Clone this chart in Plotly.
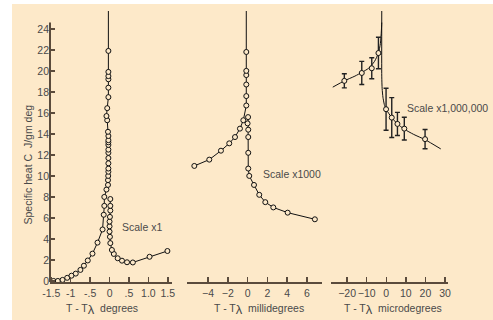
import plotly.graph_objects as go

# ---------------- data ----------------
# Panel 1: T - T_lambda in degrees
p1_left_x = [-1.44, -1.33, -1.21, -1.09, -0.98, -0.87, -0.75, -0.66, -0.56, -0.44, -0.31, -0.18,
             -0.15, -0.135, -0.135, -0.08, -0.04, -0.04, -0.035, -0.03, -0.03, -0.03, -0.03, -0.03,
             -0.03, -0.03, -0.03, -0.03, -0.03, -0.04, -0.06, -0.08, -0.06, -0.03, -0.03, -0.03,
             -0.03, -0.03, -0.03]
p1_left_y = [0.0, 0.0, 0.1, 0.3, 0.5, 0.7, 1.05, 1.45, 1.95, 2.6, 3.65, 4.9,
             6.3, 7.15, 8.0, 8.7, 9.14, 9.6, 10.0, 10.4, 10.7, 11.2, 11.7, 12.2,
             12.5, 12.95, 13.2, 13.4, 13.8, 14.2, 15.3, 15.7, 16.45, 17.5, 18.4, 19.2,
             19.5, 19.9, 21.9]
p1_right_x = [1.49, 1.03, 0.6, 0.45, 0.32, 0.21, 0.11, 0.06, 0.02, 0.01, 0.0, 0.0, 0.0, 0.01,
              0.02, 0.02, 0.02]
p1_right_y = [2.85, 2.3, 1.76, 1.78, 1.93, 2.16, 2.57, 2.95, 3.6, 4.2, 4.7, 5.2, 5.65, 6.1,
              6.7, 7.15, 7.8]
p1_peak_x = [-0.03, -0.03]
p1_peak_y = [21.9, 25.7]

# Panel 2: millidegrees
p2_left_x = [-5.38, -3.87, -2.69, -1.85, -1.27, -0.77, -0.43, -0.13, -0.13, -0.13, -0.13, -0.13, -0.13]
p2_left_y = [10.95, 11.55, 12.4, 13.1, 13.7, 14.5, 15.3, 16.7, 17.6, 18.7, 19.6, 20.0, 21.8]
p2_right_x = [6.8, 4.05, 2.6, 1.79, 1.18, 0.65, 0.17, 0.07, 0.07, 0.07, 0.07, 0.0, 0.05]
p2_right_y = [5.87, 6.5, 7.0, 7.5, 8.2, 9.14, 10.0, 10.7, 12.2, 13.7, 14.4, 15.0, 15.6]
p2_peak_x = [-0.13, -0.13]
p2_peak_y = [21.8, 25.7]

# Panel 3: microdegrees (points with error bars + smooth fit curve)
p3_pts_x = [-21.4, -12.5, -7.4, -4.0, -0.1, 2.8, 5.7, 9.2, 19.8]
p3_pts_y = [19.05, 19.8, 20.25, 21.7, 16.35, 15.55, 14.95, 14.5, 13.5]
p3_err = [0.67, 1.1, 1.0, 1.5, 2.0, 1.9, 1.1, 1.08, 0.92]
p3_fit_left_x = [-27.3, -21.4, -16.0, -12.5, -9.0, -6.0, -4.0, -3.0, -2.5, -2.3]
p3_fit_left_y = [18.45, 19.05, 19.5, 19.85, 20.25, 20.9, 21.7, 22.6, 23.8, 24.6]
p3_fit_right_x = [-2.3, -2.3, -2.1, -1.7, -1.0, -0.1, 2.8, 5.7, 9.2, 14.0, 19.8, 27.8]
p3_fit_right_y = [25.7, 19.5, 18.3, 17.5, 16.8, 16.35, 15.55, 14.95, 14.45, 13.95, 13.45, 12.57]

# ticks
y_ticks = [0, 2, 4, 6, 8, 10, 12, 14, 16, 18, 20, 22, 24]
p1_tickvals = [-1.5, -1.0, -0.5, 0, 0.5, 1.0, 1.5]
p1_ticktext = ["-1.5", "-1", "-.5", "0", ".5", "1.0", "1.5"]
p2_tickvals = [-4, -2, 0, 2, 4, 6]
p3_tickvals = [-20, -10, 0, 10, 20, 30]

# ---------------- style ----------------
PEACH = "rgb(253,233,201)"
AX = "#5b4b3c"
TXT = "#4a4a4a"
FONT = "Liberation Sans, Arial, sans-serif"
W, H = 493, 320
ML, MR, MT, MB = 50, 45, 11, 38
PW = W - ML - MR
PH = H - MT - MB


def px_x(p):
    return (p - ML) / PW


def px_y(p):
    return (H - MB - p) / PH


fig = go.Figure()

line_style = dict(color="#111", width=1)
marker_style = dict(size=5, color=PEACH, line=dict(color="#111", width=1))

# Panel 1
fig.add_trace(go.Scatter(x=p1_left_x + p1_peak_x, y=p1_left_y + p1_peak_y, mode="lines",
                         line=line_style, xaxis="x", yaxis="y", hoverinfo="skip"))
fig.add_trace(go.Scatter(x=p1_right_x, y=p1_right_y, mode="lines",
                         line=line_style, xaxis="x", yaxis="y", hoverinfo="skip"))
fig.add_trace(go.Scatter(x=p1_left_x + p1_right_x, y=p1_left_y + p1_right_y, mode="markers",
                         marker=marker_style, xaxis="x", yaxis="y", cliponaxis=False))
# Panel 2
fig.add_trace(go.Scatter(x=p2_left_x + p2_peak_x, y=p2_left_y + p2_peak_y, mode="lines",
                         line=line_style, xaxis="x2", yaxis="y", hoverinfo="skip"))
fig.add_trace(go.Scatter(x=p2_right_x, y=p2_right_y, mode="lines",
                         line=line_style, xaxis="x2", yaxis="y", hoverinfo="skip"))
fig.add_trace(go.Scatter(x=p2_left_x + p2_right_x, y=p2_left_y + p2_right_y, mode="markers",
                         marker=marker_style, xaxis="x2", yaxis="y", cliponaxis=False))
# Panel 3
fig.add_trace(go.Scatter(x=p3_fit_left_x, y=p3_fit_left_y, mode="lines",
                         line=dict(color="#111", width=1, shape="spline", smoothing=0.6),
                         xaxis="x3", yaxis="y", hoverinfo="skip"))
fig.add_trace(go.Scatter(x=p3_fit_right_x, y=p3_fit_right_y, mode="lines",
                         line=dict(color="#111", width=1, shape="spline", smoothing=0.6),
                         xaxis="x3", yaxis="y", hoverinfo="skip"))
fig.add_trace(go.Scatter(x=p3_pts_x, y=p3_pts_y, mode="markers",
                         marker=marker_style,
                         error_y=dict(type="data", array=p3_err, visible=True, color="#222",
                                      thickness=1.4, width=2.5),
                         xaxis="x3", yaxis="y"))

xcommon = dict(showgrid=False, zeroline=False, showline=True, linecolor=AX, linewidth=2,
               ticks="inside", ticklen=5, tickwidth=1.5, tickcolor=AX, anchor="y",
               tickangle=0,
               tickfont=dict(family=FONT, size=10.5, color=TXT), fixedrange=True)

fig.update_layout(
    width=W, height=H,
    margin=dict(l=ML, r=MR, t=MT, b=MB),
    paper_bgcolor="white", plot_bgcolor="rgba(0,0,0,0)",
    showlegend=False,
    font=dict(family=FONT, color=TXT),
    xaxis=dict(domain=[0, px_x(171.5)], range=[-1.533, 1.595],
               tickvals=p1_tickvals, ticktext=p1_ticktext, **xcommon),
    xaxis2=dict(domain=[px_x(187), px_x(322)], range=[-6.12, 7.52],
                tickvals=p2_tickvals, **xcommon),
    xaxis3=dict(domain=[px_x(331), px_x(448)], range=[-28.2, 31.5],
                tickvals=p3_tickvals, **xcommon),
    yaxis=dict(range=[-0.1, 25.7], showgrid=False, zeroline=False, showline=False,
               ticks="inside", ticklen=5, tickwidth=1.5, tickcolor=AX,
               tickvals=y_ticks, tickfont=dict(family=FONT, size=10.5, color=TXT), fixedrange=True),
)

# background panel (white margin strip at top and left)
fig.add_shape(type="rect", xref="paper", yref="paper", x0=px_x(12), x1=px_x(W + 5),
              y0=px_y(H + 5), y1=px_y(4), fillcolor=PEACH, line=dict(width=0), layer="below")
# y axis line (stops at ~24.6)
fig.add_shape(type="line", xref="paper", yref="y", x0=0, x1=0, y0=-0.1, y1=24.6,
              line=dict(color=AX, width=2))

NB = "\u00a0"
LAM = "T - T<sub><span style='font-size:13px'>λ</span></sub>"
ann = [
    dict(text="Specific heat C" + NB * 2 + "J/gm deg", x=px_x(27), y=px_y(164.5), textangle=-90, size=10.5),
    dict(text=LAM + NB * 2 + "degrees", x=px_x(102), y=px_y(309), size=10.5),
    dict(text=LAM + NB * 2 + "millidegrees", x=px_x(259), y=px_y(309), size=10.5),
    dict(text=LAM + NB * 2 + "microdegrees", x=px_x(393), y=px_y(309), size=10.5),
    dict(text="Scale x1", x=px_x(141.5), y=px_y(227), size=10.5),
    dict(text="Scale x1000", x=px_x(291.5), y=px_y(174), size=10.5),
    dict(text="Scale x1,000,000", x=px_x(447.5), y=px_y(108), size=10.5),
]
for a in ann:
    fig.add_annotation(text=a["text"], x=a["x"], y=a["y"], xref="paper", yref="paper",
                       xanchor="center", yanchor="middle", showarrow=False,
                       textangle=a.get("textangle", 0),
                       font=dict(family=FONT, size=a["size"], color=TXT))

fig.write_html("out.html", config={"displayModeBar": False, "staticPlot": True},
               post_script="document.body.style.margin='0';document.body.style.overflow='hidden';")
